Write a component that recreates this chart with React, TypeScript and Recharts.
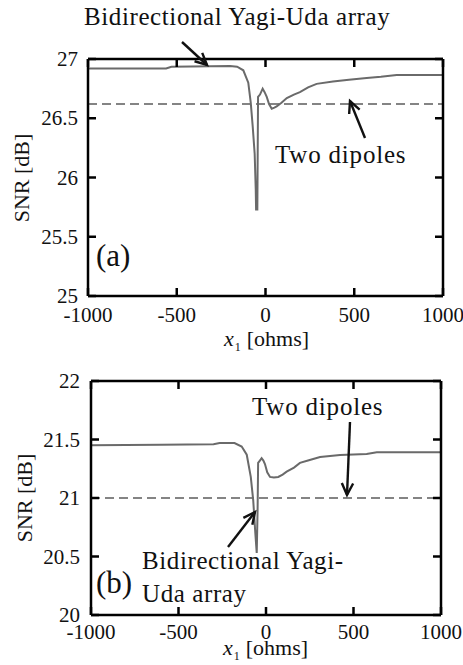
import { LineChart, Line, XAxis, YAxis } from 'recharts'

const SERIF = 'Liberation Serif'

const xTicks = [-1000, -500, 0, 500, 1000]
const yTicksA = [25, 25.5, 26, 26.5, 27]
const yTicksB = [20, 20.5, 21, 21.5, 22]

// (a) bidirectional Yagi-Uda array: [x1 ohms, SNR dB]
const yagiA: [number, number][] = [
  [-1000, 26.92], [-560, 26.92], [-530, 26.935], [-200, 26.94], [-160, 26.935],
  [-125, 26.905], [-97, 26.8], [-83, 26.63], [-72, 26.43], [-61, 26.2],
  [-55, 25.9], [-53, 25.73], [-46, 25.73], [-44, 26.2], [-42, 26.68],
  [-31, 26.7], [-16, 26.75], [-5, 26.72], [7, 26.68], [20, 26.62],
  [35, 26.58], [50, 26.59], [63, 26.6], [90, 26.63], [120, 26.67],
  [160, 26.7], [194, 26.72], [240, 26.76], [288, 26.79], [380, 26.81],
  [470, 26.825], [570, 26.84], [650, 26.85], [739, 26.865], [850, 26.865],
  [1000, 26.865],
]
const dipolesA: [number, number][] = [[-1000, 26.62], [1000, 26.62]]

// (b)
const yagiB: [number, number][] = [
  [-1000, 21.45], [-600, 21.455], [-300, 21.46], [-265, 21.47], [-180, 21.47],
  [-139, 21.44], [-110, 21.37], [-87, 21.18], [-73, 20.98], [-61, 20.7],
  [-53, 20.53], [-48, 20.9], [-45, 21.3], [-35, 21.32], [-25, 21.34],
  [-15, 21.32], [-6, 21.29], [7, 21.22], [23, 21.18], [45, 21.175],
  [70, 21.18], [95, 21.2], [118, 21.225], [160, 21.26], [194, 21.3],
  [240, 21.32], [309, 21.35], [423, 21.368], [575, 21.376], [633, 21.39],
  [1000, 21.39],
]
const dipolesB: [number, number][] = [[-1000, 21.0], [1000, 21.0]]

const toRows = (pts: [number, number][]) => pts.map(([x, snr]) => ({ x, snr }))

const axisStroke = { stroke: '#000', strokeWidth: 2.5 }
const TL = 8 // inward tick length
const TICK = '#000'

function Panel({ top, height, margin, yagi, dipoles, yTicks, xLabelDy, yLabelDx }: any) {
  const yDomain = [yTicks[0], yTicks[yTicks.length - 1]]
  const plotTop = margin.top + 1
  const plotBottom = height - margin.bottom - 1
  const plotLeft = margin.left + 1
  const plotRight = 463 - margin.right - 1

  // ticks point inwards on all four sides, labels only bottom/left
  const bottomTick = (p: any) => (
    <g>
      <line x1={p.x} x2={p.x} y1={plotBottom} y2={plotBottom - TL} stroke={TICK} strokeWidth={2.5} />
      <text x={p.x} y={plotBottom + xLabelDy} textAnchor="middle" fontSize={21}
        fontFamily={SERIF} fill="#111">{p.payload.value}</text>
    </g>
  )
  const topTick = (p: any) => (
    <line x1={p.x} x2={p.x} y1={plotTop} y2={plotTop + TL} stroke={TICK} strokeWidth={2.5} />
  )
  const leftTick = (p: any) => (
    <g>
      <line x1={plotLeft} x2={plotLeft + TL} y1={p.y} y2={p.y} stroke={TICK} strokeWidth={2.5} />
      <text x={plotLeft - yLabelDx} y={p.y + 7} textAnchor="end" fontSize={21}
        fontFamily={SERIF} fill="#111">{p.payload.value}</text>
    </g>
  )
  const rightTick = (p: any) => (
    <line x1={plotRight} x2={plotRight - TL} y1={p.y} y2={p.y} stroke={TICK} strokeWidth={2.5} />
  )

  return (
    <div style={{ position: 'absolute', left: 0, top }}>
      <LineChart width={463} height={height} margin={margin}>
        <XAxis xAxisId="b" type="number" dataKey="x" domain={[-1000, 1000]} ticks={xTicks}
          interval={0} height={1} allowDataOverflow axisLine={axisStroke} tickLine={false} tick={bottomTick} />
        <XAxis xAxisId="t" orientation="top" type="number" dataKey="x" domain={[-1000, 1000]}
          ticks={xTicks} interval={0} height={1} allowDataOverflow axisLine={axisStroke}
          tickLine={false} tick={topTick} />
        <YAxis yAxisId="l" type="number" domain={yDomain} ticks={yTicks} interval={0}
          width={1} allowDataOverflow axisLine={axisStroke} tickLine={false} tick={leftTick} />
        <YAxis yAxisId="r" orientation="right" type="number" domain={yDomain} ticks={yTicks}
          interval={0} width={1} allowDataOverflow axisLine={axisStroke} tickLine={false} tick={rightTick} />
        <Line xAxisId="b" yAxisId="l" data={toRows(dipoles)} dataKey="snr" type="linear"
          stroke="#5c5c5c" strokeWidth={1.6} strokeDasharray="9 5" dot={false}
          isAnimationActive={false} />
        <Line xAxisId="b" yAxisId="l" data={toRows(yagi)} dataKey="snr" type="linear"
          stroke="#6a6a6a" strokeWidth={2} dot={false} isAnimationActive={false} />
      </LineChart>
    </div>
  )
}

function Arrow({ x1, y1, x2, y2 }: { x1: number; y1: number; x2: number; y2: number }) {
  const a = Math.atan2(y2 - y1, x2 - x1)
  const L = 13
  const s = 0.45
  const hx1 = x2 - L * Math.cos(a - s)
  const hy1 = y2 - L * Math.sin(a - s)
  const hx2 = x2 - L * Math.cos(a + s)
  const hy2 = y2 - L * Math.sin(a + s)
  return (
    <g stroke="#111" strokeWidth={2.4} fill="none">
      <line x1={x1} y1={y1} x2={x2} y2={y2} />
      <polyline points={`${hx1},${hy1} ${x2},${y2} ${hx2},${hy2}`} />
    </g>
  )
}

function XTitle({ x, y }: { x: number; y: number }) {
  return (
    <text x={x} y={y} fontSize={22} fontFamily={SERIF}>
      <tspan fontStyle="italic">x</tspan>
      <tspan fontSize={12} dy={5} dx={1}>1</tspan>
      <tspan dy={-5} dx={6}>[ohms]</tspan>
    </text>
  )
}

export default function App() {
  return (
    <div style={{ position: 'absolute', left: 0, top: 0, width: 463, height: 665, background: '#fff' }}>
      <Panel top={0} height={340} margin={{ top: 58, right: 19, bottom: 43, left: 87 }}
        yagi={yagiA} dipoles={dipolesA} yTicks={yTicksA} xLabelDy={26} yLabelDx={10} />
      <Panel top={340} height={325} margin={{ top: 40, right: 21, bottom: 49, left: 90 }}
        yagi={yagiB} dipoles={dipolesB} yTicks={yTicksB} xLabelDy={24} yLabelDx={11} />
      <svg width={463} height={665} style={{ position: 'absolute', left: 0, top: 0, pointerEvents: 'none' }}
        fill="#111" fontFamily={SERIF}>
        {/* panel (a) */}
        <text x={84} y={25} fontSize={25} letterSpacing={0.6}>Bidirectional Yagi-Uda array</text>
        <Arrow x1={182} y1={42} x2={207} y2={65} />
        <text x={275} y={163} fontSize={25} letterSpacing={0.8}>Two dipoles</text>
        <Arrow x1={365} y1={138} x2={350} y2={101} />
        <text x={96} y={266} fontSize={31}>(a)</text>
        <text transform="translate(29,178) rotate(-90)" textAnchor="middle" fontSize={22}>SNR [dB]</text>
        <XTitle x={224} y={346} />
        {/* panel (b) */}
        <text x={252} y={415} fontSize={25} letterSpacing={0.8}>Two dipoles</text>
        <Arrow x1={350} y1={422} x2={347} y2={495} />
        <text x={142} y={569} fontSize={25} letterSpacing={0.6}>Bidirectional Yagi-</text>
        <text x={142} y={602} fontSize={25} letterSpacing={0.6}>Uda array</text>
        <Arrow x1={228} y1={547} x2={255} y2={512} />
        <text x={96} y={593} fontSize={31}>(b)</text>
        <text transform="translate(32,498) rotate(-90)" textAnchor="middle" fontSize={22}>SNR [dB]</text>
        <XTitle x={223} y={655} />
      </svg>
    </div>
  )
}
